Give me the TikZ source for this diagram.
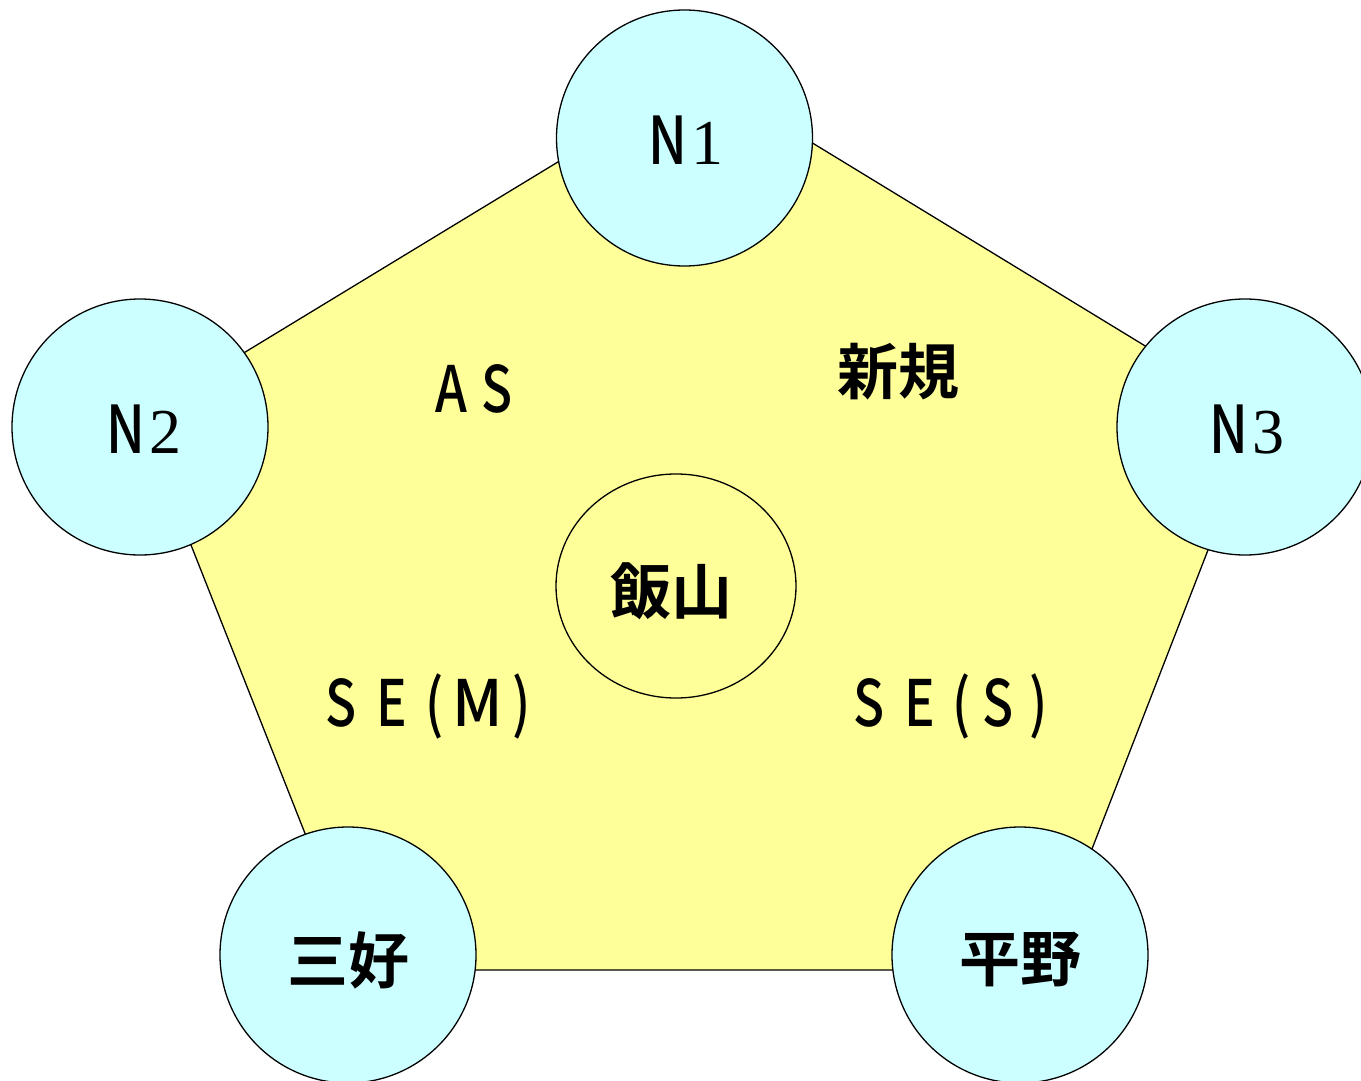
\documentclass[tikz,border=0pt]{standalone}
\usepackage{fontspec}
\usetikzlibrary{shapes.geometric}
\setmainfont{Liberation Sans}
\newfontfamily\jpfont{Noto Sans CJK JP}[BoldFont={* Bold}, BoldFeatures={FakeBold=0}]
\newfontfamily\latfont[FakeStretch=0.8]{Noto Sans CJK JP Medium}
\newfontfamily\latwide[FakeStretch=0.95]{Noto Sans CJK JP Medium}
\newfontfamily\digfont{Liberation Serif}
\definecolor{pentyellow}{HTML}{FFFF99}
\definecolor{nodecyan}{HTML}{CCFFFF}
\tikzset{
  member/.style={circle, draw=black, line width=1.3pt, fill=nodecyan, minimum size=256pt, inner sep=0pt},
  lbl/.style={inner sep=0pt, font=\latfont\fontsize{64}{64}\selectfont},
  kanji/.style={inner sep=0pt, font=\jpfont\bfseries\fontsize{61}{61}\selectfont},
}
\newcommand{\nlab}[1]{{\latfont\fontsize{66}{66}\selectfont N}\kern4pt{\digfont\fontsize{64}{64}\selectfont #1}}
\begin{document}
\begin{tikzpicture}[x=1pt,y=-1pt]
\useasboundingbox (0,0) rectangle (1361,1081);
\coordinate (pT) at (701,75);
\coordinate (pR) at (1260,416);
\coordinate (pBR) at (1045,970);
\coordinate (pBL) at (359,970);
\coordinate (pL) at (140,416);
\draw[line width=1.3pt, fill=pentyellow] (pT) -- (pR) -- (pBR) -- (pBL) -- (pL) -- cycle;
\node[draw=black, line width=1.3pt, ellipse, minimum width=240pt, minimum height=224pt, inner sep=0pt] (iiyama) at (676,586) {};
\node[kanji] (iiyamat) at (671,591) {飯山};
\node[lbl] (as) at (474,389) {A\kern14pt S};
\node[kanji] (shinki) at (898,372) {新規};
\node[lbl] (sem) at (428,706) {S\kern20pt E\kern18pt (\kern9pt {\latwide M}\kern9pt )};
\node[lbl] (ses) at (951,706) {S\kern20pt E\kern17pt (\kern12pt S\kern16pt )};
\node[member] (n1) at (684.5,138) {};
\node[member] (n2) at (140,427) {};
\node[member] (n3) at (1245,427) {};
\node[member] (miyoshi) at (348,955) {};
\node[member] (hirano) at (1020,955) {};
\node[inner sep=0pt] at (686,140) {\nlab{1}};
\node[inner sep=0pt] at (144,429) {\nlab{2}};
\node[inner sep=0pt] at (1247,429) {\nlab{3}};
\node[kanji] at (348,960) {三好};
\node[kanji] at (1020,960) {平野};
\end{tikzpicture}
\end{document}
